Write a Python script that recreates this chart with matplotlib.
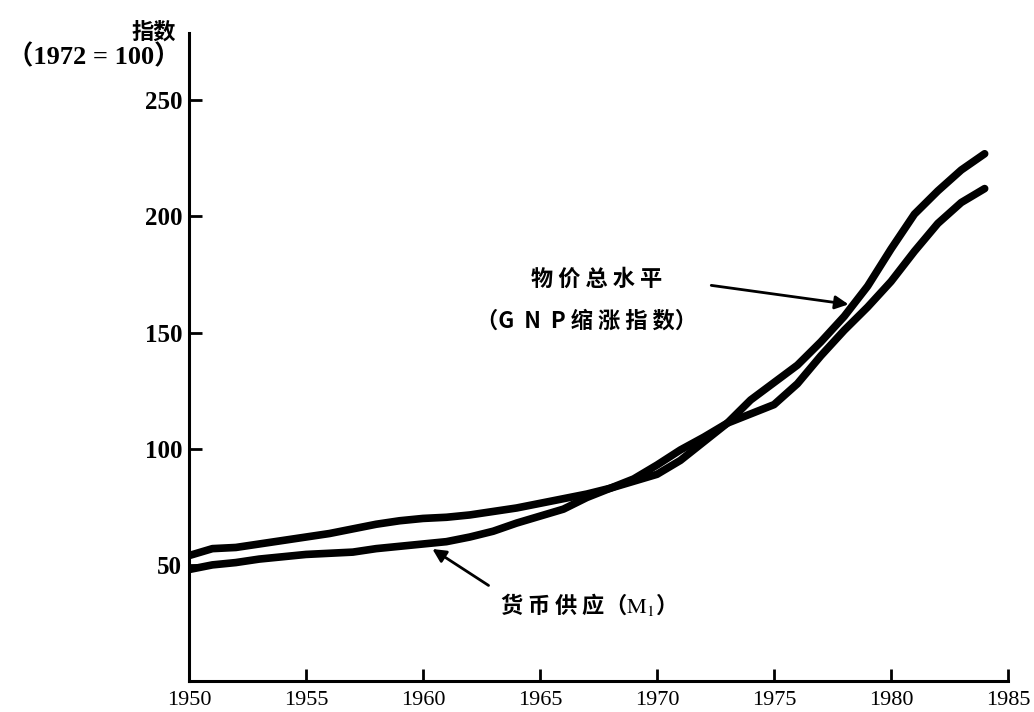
import matplotlib.pyplot as plt

# Index values (1972 = 100)
years = list(range(1950, 1985))
price_level = [54, 57, 57.5, 59, 60.5, 62, 63.5, 65.5, 67.5, 69,
               70, 70.5, 71.5, 73, 74.5, 76.5, 78.5, 80.5, 83, 86,
               89, 95, 103, 111, 121, 128.5, 136, 146, 157, 170,
               186, 201, 211, 220, 227]
money_supply = [48, 50, 51, 52.5, 53.5, 54.5, 55, 55.5, 57, 58,
                59, 60, 62, 64.5, 68, 71, 74, 79, 83, 87,
                93, 99.5, 105, 111, 115, 119, 128, 140, 151, 161,
                172, 185, 197, 206, 212]
x_ticks = [1950, 1955, 1960, 1965, 1970, 1975, 1980, 1985]
y_ticks = [50, 100, 150, 200, 250]

plt.rcParams['mathtext.fontset'] = 'stix'
cjk = ['Noto Sans CJK SC', 'DejaVu Sans']
serif = ['Liberation Serif', 'Noto Sans CJK SC']

fig = plt.figure(figsize=(10.34, 7.12), dpi=100)
ax = fig.add_axes([0.1828, 0.0435, 0.7921, 0.9102])

ax.plot(years, price_level, color='black', lw=5.5, solid_capstyle='round',
        solid_joinstyle='round')
ax.plot(years, money_supply, color='black', lw=5.5, solid_capstyle='round',
        solid_joinstyle='round')

ax.set_xlim(1950, 1985)
ax.set_ylim(0, 279)
ax.spines['top'].set_visible(False)
ax.spines['right'].set_visible(False)
ax.spines['left'].set_linewidth(2.2)
ax.spines['bottom'].set_linewidth(2.2)

ax.set_xticks(x_ticks)
ax.set_yticks(y_ticks)
ax.tick_params(axis='both', direction='in', length=9, width=2, color='black')
ax.tick_params(axis='x', pad=7)
ax.tick_params(axis='y', pad=5)
for lab in ax.get_xticklabels():
    lab.set_family(serif)
    lab.set_fontsize(16)
for lab in ax.get_yticklabels():
    lab.set_family(serif)
    lab.set_fontsize(18)
    lab.set_fontweight('bold')

# axis title at top-left
fig.text(0.149, 0.955, '指数', ha='center', va='center', family=cjk,
         fontsize=16, fontweight='bold')
fig.text(0.091, 0.921, '（1972 = 100）', ha='center', va='center', family=serif,
         fontsize=19, fontweight='bold')

# price level label and arrow
ax.text(1967.4, 173, '物 价 总 水 平', ha='center', va='center', family=cjk,
        fontsize=16, fontweight='bold')
ax.text(1967.0, 155, '（G  N  P 缩 涨 指 数）', ha='center', va='center',
        family=cjk, fontsize=16, fontweight='bold')
ax.annotate('', xy=(1978.3, 162), xytext=(1972.2, 170.5),
            arrowprops=dict(arrowstyle='-|>', color='black', lw=2,
                            mutation_scale=20))

# money supply label and arrow
ax.text(1963.3, 33, '货 币 供 应（$\\mathrm{M_1}$）', ha='left', va='center',
        family=cjk, fontsize=16, fontweight='bold')
ax.annotate('', xy=(1960.3, 57.5), xytext=(1962.9, 40.5),
            arrowprops=dict(arrowstyle='-|>', color='black', lw=2,
                            mutation_scale=20))

fig.savefig('out.png', dpi=100)
